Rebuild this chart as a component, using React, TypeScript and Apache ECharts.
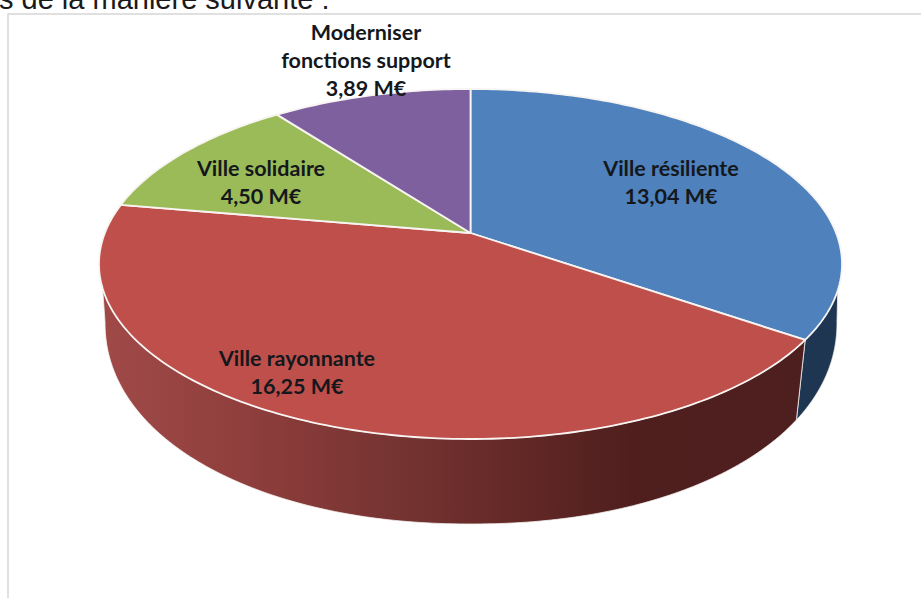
import React, { useEffect, useRef } from "react";
import * as echarts from "echarts";

const sliceNames = ["Ville résiliente", "Ville rayonnante", "Ville solidaire", "Moderniser\nfonctions support"];
const sliceValues = [13.04, 16.25, 4.5, 3.89];
const unit = "M€";
const headerText = "s de la manière suivante :";

const topColors = ["#4F81BD", "#BF4F4B", "#9BBB59", "#7F609F"];
const sideStops = [
  [{ offset: 0, color: "#1F3652" }, { offset: 1, color: "#1F3652" }],
  [
    { offset: 0, color: "#A04A48" },
    { offset: 0.21, color: "#8E3E3C" },
    { offset: 0.43, color: "#743331" },
    { offset: 0.6, color: "#622826" },
    { offset: 0.75, color: "#4F1F1E" },
    { offset: 1, color: "#4E1F1F" },
  ],
  [{ offset: 0, color: "#5E7035" }, { offset: 1, color: "#5E7035" }],
  [{ offset: 0, color: "#4D3A61" }, { offset: 1, color: "#4D3A61" }],
];
const labelAnchors = [
  [671, 182],
  [297, 372],
  [261, 182],
  [366, 60],
];

// Geometry of the tilted disc (perspective: apex sits above the ellipse centre)
const CX = 470.5, CY = 264, RX = 371.5, RY = 175;
const TILT = 31 / 175;
// Rim ellipse
const BX = 471, BY = 322, BRX = 366, BRY = 202, BN = 2.1;
const JOIN_Y = 288;

const total = sliceValues.reduce((a, b) => a + b, 0);
const startOf = (i: number) => (sliceValues.slice(0, i).reduce((a, b) => a + b, 0) / total) * 360;

function topPoint(deg: number): number[] {
  const t = (deg * Math.PI) / 180;
  const X = Math.sin(t);
  const Y = -Math.cos(t);
  const d = 1 - TILT * Y;
  return [CX + (RX * X * Math.sqrt(1 - TILT * TILT)) / d, CY + (RY * (Y - TILT)) / d];
}
function rimPoint(a: number): number[] {
  const c = Math.cos(a), s = Math.sin(a);
  return [
    BX + BRX * Math.sign(c) * Math.pow(Math.abs(c), 2 / BN),
    BY + BRY * Math.pow(Math.abs(s), 2 / BN),
  ];
}
function rimAngleBelow(p: number[]): number {
  const f = ((p[0] - CX) / RX) * 0.987;
  const c = Math.sign(f) * Math.pow(Math.abs(f), BN / 2);
  return Math.acos(Math.max(-1, Math.min(1, c)));
}
function sweep(from: number, to: number): number[] {
  const out: number[] = [];
  const n = Math.max(2, Math.ceil(to - from));
  for (let k = 0; k <= n; k++) out.push(from + ((to - from) * k) / n);
  return out;
}

function renderSide(params: any, api: any) {
  const i = params.dataIndex;
  const from = startOf(i);
  const to = from + (api.value(0) / total) * 360;
  const samples = sweep(from, to).filter((d) => topPoint(d)[1] >= JOIN_Y);
  if (samples.length < 2) return { type: "group", children: [] };
  const top = samples.map(topPoint);
  const aStart = samples[0] === from ? rimAngleBelow(top[0]) : 0;
  const aEnd = samples[samples.length - 1] === to ? rimAngleBelow(top[top.length - 1]) : Math.PI;
  const rim: number[][] = [];
  for (let k = 0; k <= 160; k++) rim.push(rimPoint(aEnd + ((aStart - aEnd) * k) / 160));
  return {
    type: "polygon",
    shape: { points: top.concat(rim) },
    style: {
      fill: { type: "linear", x: 0, y: 0, x2: 1, y2: 0, colorStops: sideStops[i] },
      stroke: "#F4F1F0",
      lineWidth: 0.8,
      lineJoin: "round",
    },
  };
}

function renderTop(params: any, api: any) {
  const i = params.dataIndex;
  const from = startOf(i);
  const to = from + (api.value(0) / total) * 360;
  const apex = [CX, CY - TILT * RY];
  return {
    type: "polygon",
    shape: { points: [apex].concat(sweep(from, to).map(topPoint)) },
    style: { fill: topColors[i], stroke: "#F7F4F2", lineWidth: 1.8, lineJoin: "round" },
  };
}

function renderLabel(params: any, api: any) {
  const i = params.dataIndex;
  const amount = api.value(0).toFixed(2).replace(".", ",") + " " + unit;
  return {
    type: "text",
    style: {
      x: labelAnchors[i][0],
      y: labelAnchors[i][1],
      text: sliceNames[i] + "\n" + amount,
      align: "center",
      verticalAlign: "middle",
      font: '700 21.5px Lato, "Open Sans", sans-serif',
      lineHeight: 28,
      fill: "#14181C",
    },
  };
}

export default function App() {
  const ref = useRef<HTMLDivElement>(null);
  useEffect(() => {
    document.body.style.margin = "0";
    const chart = echarts.init(ref.current!, undefined, { renderer: "svg" });
    const data = sliceValues.map((v, i) => ({ name: sliceNames[i], value: [v] }));
    chart.setOption({
      animation: false,
      backgroundColor: "#FFFFFF",
      graphic: [
        {
          type: "polyline",
          silent: true,
          shape: { points: [[8, 598], [8, 14], [921, 14]] },
          style: { fill: "none", stroke: "#D6D6D6", lineWidth: 1.5 },
        },
        {
          type: "text",
          silent: true,
          x: -1,
          y: 13,
          style: {
            text: headerText,
            font: '29px "Liberation Sans", Arial, sans-serif',
            fill: "#1A1A1A",
            verticalAlign: "bottom",
          },
        },
      ],
      series: [
        { type: "custom", coordinateSystem: "none", renderItem: renderSide, data, clip: false, z: 2 },
        { type: "custom", coordinateSystem: "none", renderItem: renderTop, data, clip: false, z: 3 },
        { type: "custom", coordinateSystem: "none", renderItem: renderLabel, data, clip: false, z: 4 },
      ],
    });
    return () => chart.dispose();
  }, []);
  return <div ref={ref} style={{ width: 921, height: 598 }} />;
}
